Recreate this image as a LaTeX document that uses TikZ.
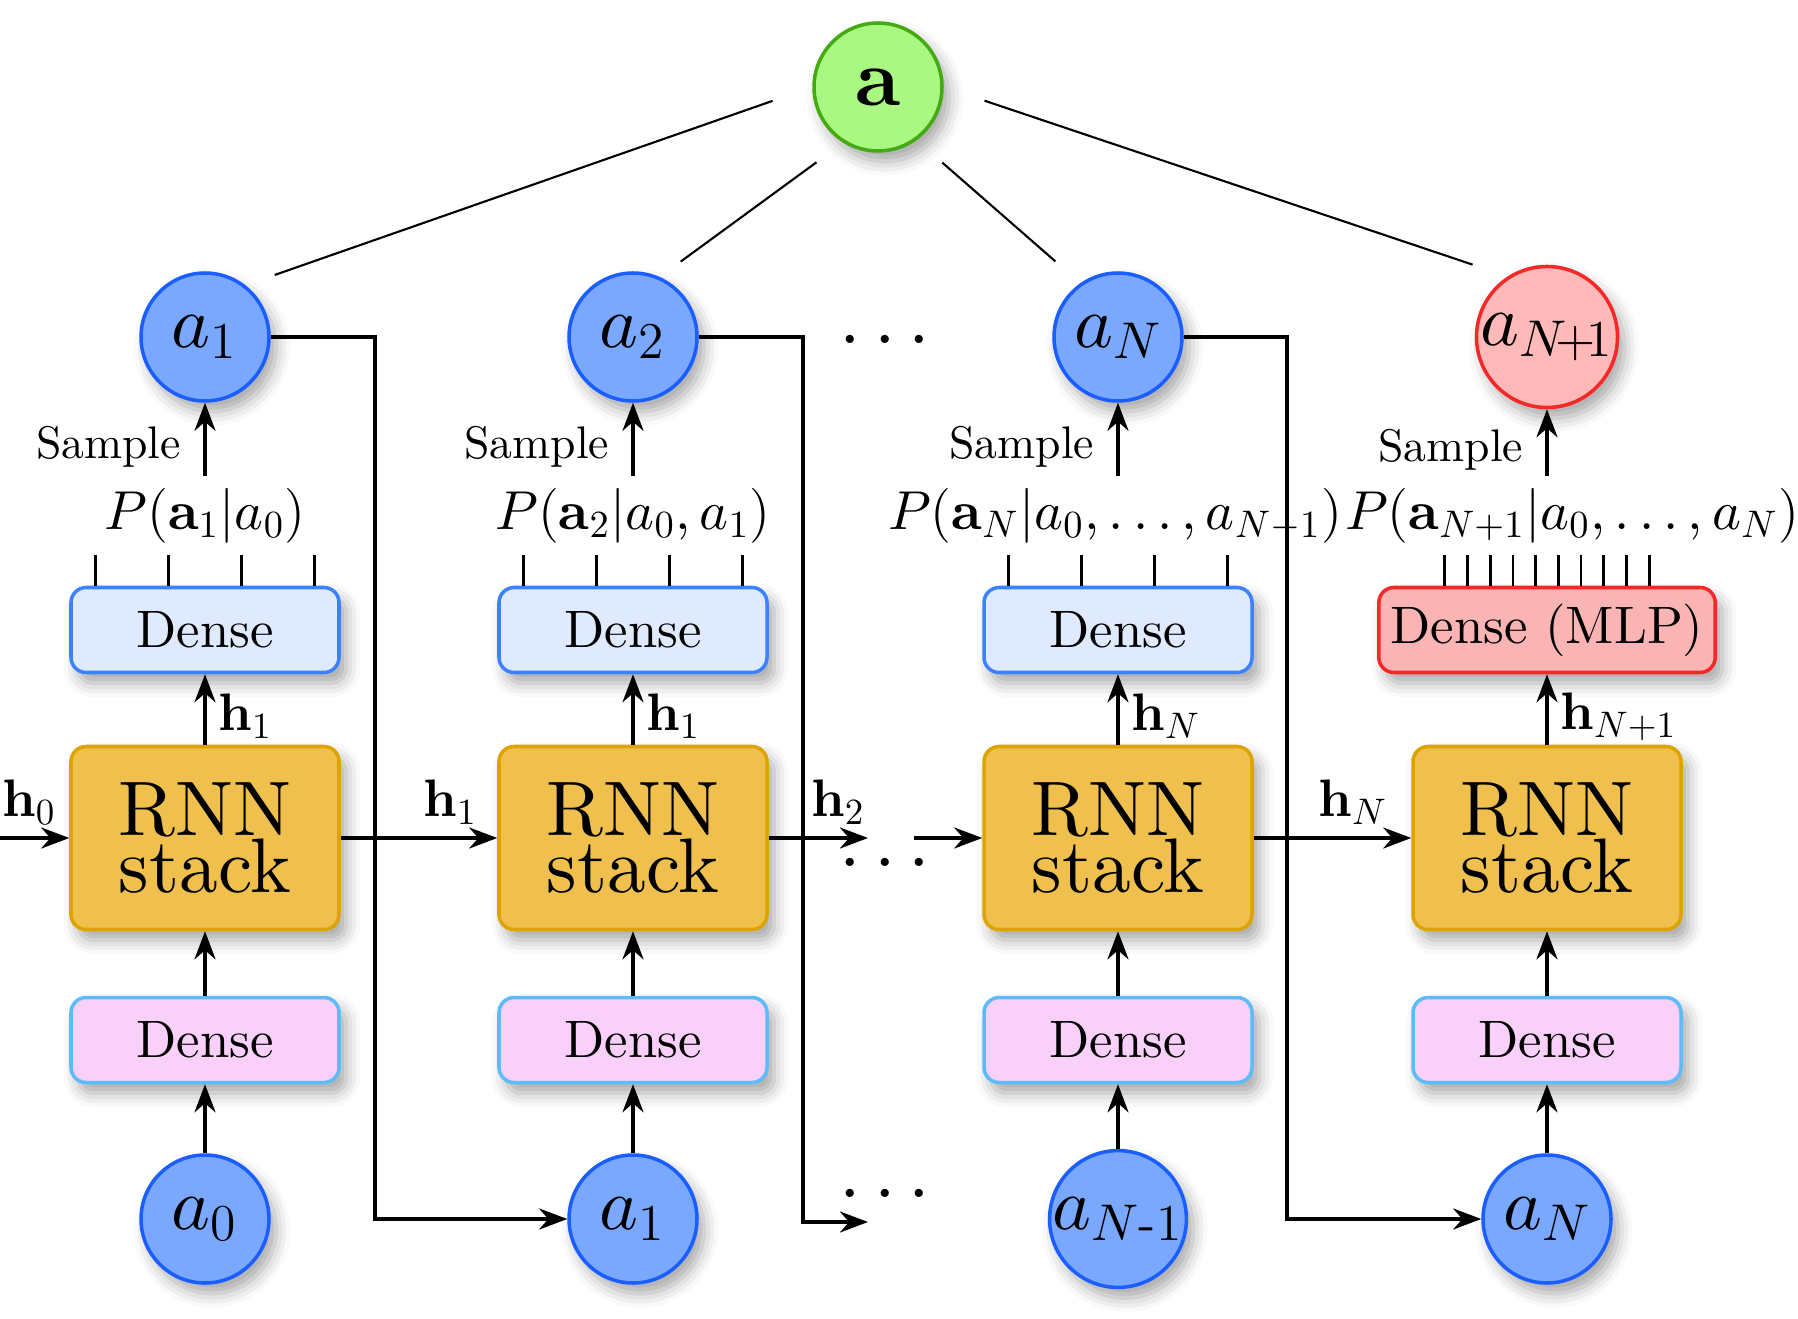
\RequirePackage{fix-cm}
\documentclass[tikz,border=0pt]{standalone}
\usepackage{amsmath}
\usepackage{fontspec}
\setmainfont{lmroman10-regular}[Extension=.otf, BoldFont=lmroman10-bold, ItalicFont=lmroman10-italic]
\DeclareFontShape{OML}{cmm}{m}{it}{<->cmmi10}{}
\DeclareFontShape{OMS}{cmsy}{m}{n}{<->cmsy10}{}
\usetikzlibrary{arrows.meta,positioning,shadows.blur}

\definecolor{actFill}{HTML}{7BA8FF}
\definecolor{actEdge}{HTML}{1A5EFF}
\definecolor{topFill}{HTML}{A8F882}
\definecolor{topEdge}{HTML}{44AA11}
\definecolor{newFill}{HTML}{FFB9B9}
\definecolor{newEdge}{HTML}{F52828}
\definecolor{mlpFill}{HTML}{FBB4B4}
\definecolor{rnnFill}{HTML}{F0C04E}
\definecolor{rnnEdge}{HTML}{DDA400}
\definecolor{outFill}{HTML}{E0EAFF}
\definecolor{outEdge}{HTML}{3C82FF}
\definecolor{inFill}{HTML}{F9D0F9}
\definecolor{inEdge}{HTML}{5BBCF7}

\begin{document}
\begin{tikzpicture}[x=1cm,y=1cm,
    every node/.style={font=\fontsize{15}{18}\selectfont},
    arr/.style={-{Stealth[length=8pt,width=6pt]}, line width=1pt},
    tick/.style={line width=0.8pt},
    soft/.style={blur shadow={shadow xshift=2pt, shadow yshift=-3pt, shadow blur radius=4pt, shadow opacity=35}},
    act/.style={circle, draw=actEdge, fill=actFill, line width=1pt, minimum size=1.28cm, inner sep=0pt, font=\fontsize{21}{21}\selectfont, soft},
    rnn/.style={rectangle, rounded corners=4.3pt, draw=rnnEdge, fill=rnnFill, line width=1pt, minimum width=2.68cm, minimum height=1.83cm, align=center, font=\fontsize{22}{16}\selectfont, soft},
    dout/.style={rectangle, rounded corners=4.3pt, draw=outEdge, fill=outFill, line width=1pt, minimum width=2.68cm, minimum height=0.85cm, soft},
    din/.style={rectangle, rounded corners=4.3pt, draw=inEdge, fill=inFill, line width=1pt, minimum width=2.68cm, minimum height=0.85cm, soft},
    dist/.style={font=\fontsize{15.6}{18}\selectfont},
    dots/.style={font=\fontsize{22}{22}\selectfont, inner sep=0pt}]
    \useasboundingbox (0,0) rectangle (17.98,13.18);

    % top node and sampled actions
    \node[act, draw=topEdge, fill=topFill, font=\fontsize{23}{23}\selectfont] (a) at (8.78,12.31) {$\mathbf{a}$};
    \node[act] (t1) at (2.05,9.81) {$a_1$};
    \node[act] (t2) at (6.33,9.81) {$a_2$};
    \node[act] (t3) at (11.18,9.81) {$a_N$};
    \node[act, draw=newEdge, fill=newFill] (t4) at (15.47,9.81) {$a_{N\mkern-4mu\text{+}\mkern-3mu1}$};
    \node[dots] (dt) at (8.85,9.79) {$\ldots$};

    \draw[line width=0.6pt, shorten <=0.42cm, shorten >=0.31cm] (a.180) -- (t1.52);
    \draw[line width=0.6pt, shorten <=0.33cm, shorten >=0.26cm] (a.238) -- (t2.66);
    \draw[line width=0.6pt, shorten <=0.34cm, shorten >=0.33cm] (a.306) -- (t3.125);
    \draw[line width=0.6pt, shorten <=0.43cm, shorten >=0.37cm] (a.0) -- (t4.123);

    % distributions
    \node[dist] (p1) at (2.05,8.02) {$P(\mathbf{a}_1|a_0)$};
    \node[dist] (p2) at (6.33,8.02) {$P(\mathbf{a}_2|a_0,a_1)$};
    \node[dist] (p3) at (11.15,8.02) {$P(\mathbf{a}_N|a_0,\ldots,a_{N-1})$};
    \node[dist] (p4) at (15.72,8.02) {$P(\mathbf{a}_{N+1}|a_0,\ldots,a_N)$};

    % output layers
    \node[dout] (d1) at (2.05,6.88) {Dense};
    \node[dout] (d2) at (6.33,6.88) {Dense};
    \node[dout] (d3) at (11.18,6.88) {Dense};
    \node[dout, draw=newEdge, fill=mlpFill, minimum width=3.34cm] (d4) at (15.47,6.88) {Dense (MLP)};

    % recurrent cells
    \node[rnn] (r1) at (2.05,4.80) {RNN\\stack};
    \node[rnn] (r2) at (6.33,4.80) {RNN\\stack};
    \node[rnn] (r3) at (11.18,4.80) {RNN\\stack};
    \node[rnn] (r4) at (15.47,4.80) {RNN\\stack};
    \node[dots] (dm) at (8.85,4.56) {$\ldots$};

    % input layers
    \node[din] (e1) at (2.05,2.78) {Dense};
    \node[din] (e2) at (6.33,2.78) {Dense};
    \node[din] (e3) at (11.18,2.78) {Dense};
    \node[din] (e4) at (15.47,2.78) {Dense};

    % previous actions
    \node[act] (b1) at (2.05,0.99) {$a_0$};
    \node[act] (b2) at (6.33,0.99) {$a_1$};
    \node[act] (b3) at (11.18,0.99) {$a_{N\text{-}1}$};
    \node[act] (b4) at (15.47,0.99) {$a_N$};
    \node[dots] (db) at (8.85,1.25) {$\ldots$};

    \foreach \i in {1,...,4} {
        \draw[arr] (b\i) -- (e\i);
        \draw[arr] (e\i) -- (r\i);
        \draw[arr] (t\i.south |- p\i.north) -- node[pos=.4, left=3pt, font=\fontsize{13}{15}\selectfont] (s\i) {Sample} (t\i.south);
    }
    \draw[arr] (r1) -- node[right, pos=.4] (v1) {$\mathbf{h}_1$} (d1);
    \draw[arr] (r2) -- node[right, pos=.4] (v2) {$\mathbf{h}_1$} (d2);
    \draw[arr] (r3) -- node[right, pos=.4] (v3) {$\mathbf{h}_N$} (d3);
    \draw[arr] (r4) -- node[right, pos=.4] (v4) {$\mathbf{h}_{N+1}$} (d4);

    % output units
    \foreach \i in {1,2,3}
        \foreach \dx in {-1.5,-0.5,0.5,1.5}
            \draw[tick] ([xshift=\dx*0.73cm]d\i.north) -- ++(0,0.31);
    \foreach \k in {0,...,9}
        \draw[tick] ([xshift=(\k-4.5)*0.227cm]d4.north) -- ++(0,0.31);

    % hidden state chain
    \coordinate (h0s) at (0,4.80);
    \coordinate (g1) at (8.68,4.80);
    \coordinate (g2) at (9.14,4.80);
    \draw[arr] (h0s) -- node[above, pos=.42] (h0) {$\mathbf{h}_0$} (r1);
    \draw[arr] (r1) -- node[above, pos=.7] (h1) {$\mathbf{h}_1$} (r2);
    \draw[arr] (r2) -- node[above, pos=.7] (h2) {$\mathbf{h}_2$} (g1);
    \draw[arr] (g2) -- (r3);
    \draw[arr] (r3) -- node[above, pos=.63] (hN) {$\mathbf{h}_N$} (r4);

    % feed sampled action back in
    \coordinate (f2) at (8.68,0.96);
    \draw[arr] (t1.east) -- (3.75,9.81) |- (b2.west);
    \draw[arr] (t2.east) -- (8.03,9.81) |- (f2);
    \draw[arr] (t3.east) -- (12.87,9.81) |- (b4.west);
\end{tikzpicture}
\end{document}
